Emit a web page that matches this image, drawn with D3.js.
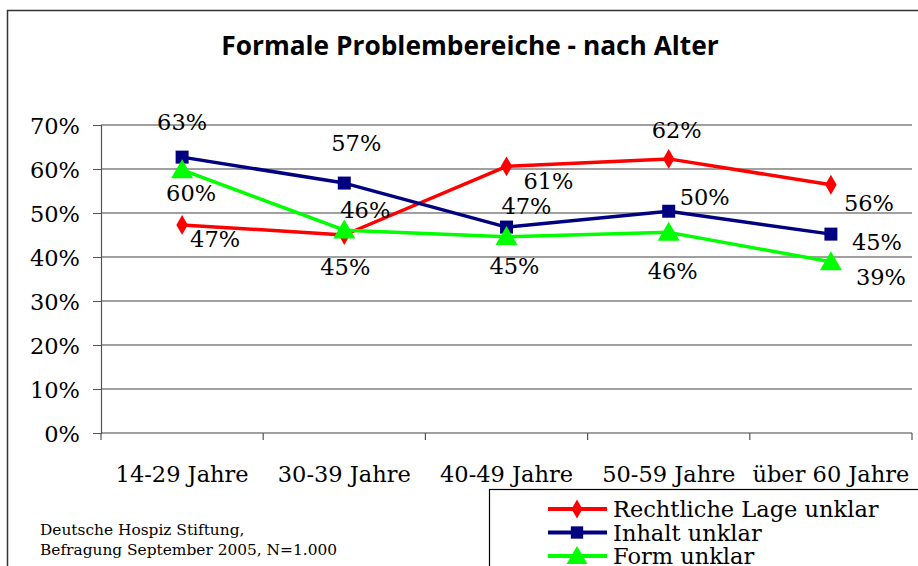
<!DOCTYPE html>
<html><head><meta charset="utf-8">
<script src="https://cdn.jsdelivr.net/npm/d3@7"></script>
<style>body{margin:0;background:#fff}svg{display:block}</style>
</head><body>
<svg id="c" width="918" height="566"></svg>
<script>
const categories = ["14-29 Jahre","30-39 Jahre","40-49 Jahre","50-59 Jahre","über 60 Jahre"];
const seriesNames = ["Rechtliche Lage unklar","Inhalt unklar","Form unklar"];
const rechtlicheLage = [47.3, 45.0, 60.6, 62.3, 56.4];
const inhalt = [62.7, 56.8, 46.8, 50.4, 45.2];
const form = [59.8, 46.1, 44.6, 45.6, 38.9];
const yTicks = [0,10,20,30,40,50,60,70];
const title = "Formale Problembereiche - nach Alter";
const sourceLines = ["Deutsche Hospiz Stiftung,","Befragung September 2005, N=1.000"];

// label offsets (layout, not data)
const labelOffsets = [
  [[33,14],[1,32],[42,15],[8,-29],[38,18]],
  [[0,-35],[12,-40],[20,-21],[36,-14],[46,8]],
  [[9,23],[21,-20],[8,29],[4,39],[50,15]]
];
const colors = ["#ff0000","#000080","#00ff00"];
const symbols = [d3.symbolDiamond, d3.symbolSquare, d3.symbolTriangle];
const symSizes = [115, 169, 210];

const svg = d3.select("#c");
const serif = "'DejaVu Serif', serif";
const fs = 22.5;

// outer border
svg.append("rect").attr("x",7.5).attr("y",10.5).attr("width",940).attr("height",600)
  .attr("fill","none").attr("stroke","#333").attr("stroke-width",1.5);

svg.append("text").attr("x",470).attr("y",55).attr("text-anchor","middle")
  .attr("font-family","'Open Sans', sans-serif").attr("font-weight","bold").attr("font-size",26.3)
  .attr("fill","#000").text(title);

const x = d3.scaleBand().domain(categories).range([101,912]).padding(0);
const y = d3.scaleLinear().domain([0,70]).range([433,125]);

// gridlines
svg.append("g").selectAll("line").data(yTicks).join("line")
  .attr("x1",101).attr("x2",912).attr("y1",d=>y(d)).attr("y2",d=>y(d))
  .attr("stroke","#808080").attr("stroke-width",1.5);

// y axis
const ya = svg.append("g").attr("transform","translate(101,0)")
  .call(d3.axisLeft(y).tickValues(yTicks).tickFormat(d=>d+"%").tickSize(8).tickPadding(13));
ya.select(".domain").attr("stroke","#555").attr("stroke-width",1.2);
ya.selectAll(".tick line").attr("stroke","#555");
ya.selectAll("text").attr("font-family",serif).attr("font-size",fs).attr("fill","#000").attr("dy","0.36em");

// x axis
const xa = svg.append("g").attr("transform","translate(0,433)")
  .call(d3.axisBottom(x).tickSize(0).tickPadding(33));
xa.select(".domain").remove();
xa.selectAll("text").attr("font-family",serif).attr("font-size",fs).attr("fill","#000");
const xTickPos = categories.map(c=>x(c)).concat([x.range()[1]]);
svg.append("g").selectAll("line").data(xTickPos).join("line")
  .attr("x1",d=>d).attr("x2",d=>d).attr("y1",433).attr("y2",440)
  .attr("stroke","#555").attr("stroke-width",1.2);

const allSeries = [rechtlicheLage, inhalt, form];
const cx = c => x(c) + x.bandwidth()/2;
const line = d3.line().x((d,i)=>cx(categories[i])).y(d=>y(d));

allSeries.forEach((vals,s)=>{
  svg.append("path").datum(vals).attr("d",line).attr("fill","none")
    .attr("stroke",colors[s]).attr("stroke-width",3.5).attr("stroke-linejoin","round");
});
allSeries.forEach((vals,s)=>{
  svg.append("g").selectAll("path").data(vals).join("path")
    .attr("transform",(d,i)=>`translate(${cx(categories[i])},${y(d)+(s===2?2:0)})`)
    .attr("d",d3.symbol().type(symbols[s]).size(symSizes[s]))
    .attr("fill",colors[s]);
});
allSeries.forEach((vals,s)=>{
  svg.append("g").selectAll("text").data(vals).join("text")
    .attr("x",(d,i)=>cx(categories[i])+labelOffsets[s][i][0])
    .attr("y",(d,i)=>y(d)+labelOffsets[s][i][1])
    .attr("dy","0.36em").attr("text-anchor","middle")
    .attr("font-family",serif).attr("font-size",fs).attr("fill","#000")
    .text(d=>Math.round(d)+"%");
});

// source
svg.append("g").selectAll("text").data(sourceLines).join("text")
  .attr("x",40).attr("y",(d,i)=>535+i*20)
  .attr("font-family",serif).attr("font-size",15.4).attr("fill","#000").text(d=>d);

// legend
svg.append("rect").attr("x",489.5).attr("y",489.5).attr("width",500).attr("height",120)
  .attr("fill","#fff").attr("stroke","#000").attr("stroke-width",1.2);
seriesNames.forEach((n,s)=>{
  const ly = 509 + s*23.5;
  const g = svg.append("g");
  g.append("line").attr("x1",548).attr("x2",607).attr("y1",ly).attr("y2",ly)
    .attr("stroke",colors[s]).attr("stroke-width",4);
  g.append("path").attr("transform",`translate(577,${ly+(s===2?2:0)})`)
    .attr("d",d3.symbol().type(symbols[s]).size(symSizes[s]*0.9)).attr("fill",colors[s]);
  g.append("text").attr("x",613).attr("y",ly).attr("dy","0.36em")
    .attr("font-family",serif).attr("font-size",fs).attr("fill","#000").text(n);
});
</script>
</body></html>
